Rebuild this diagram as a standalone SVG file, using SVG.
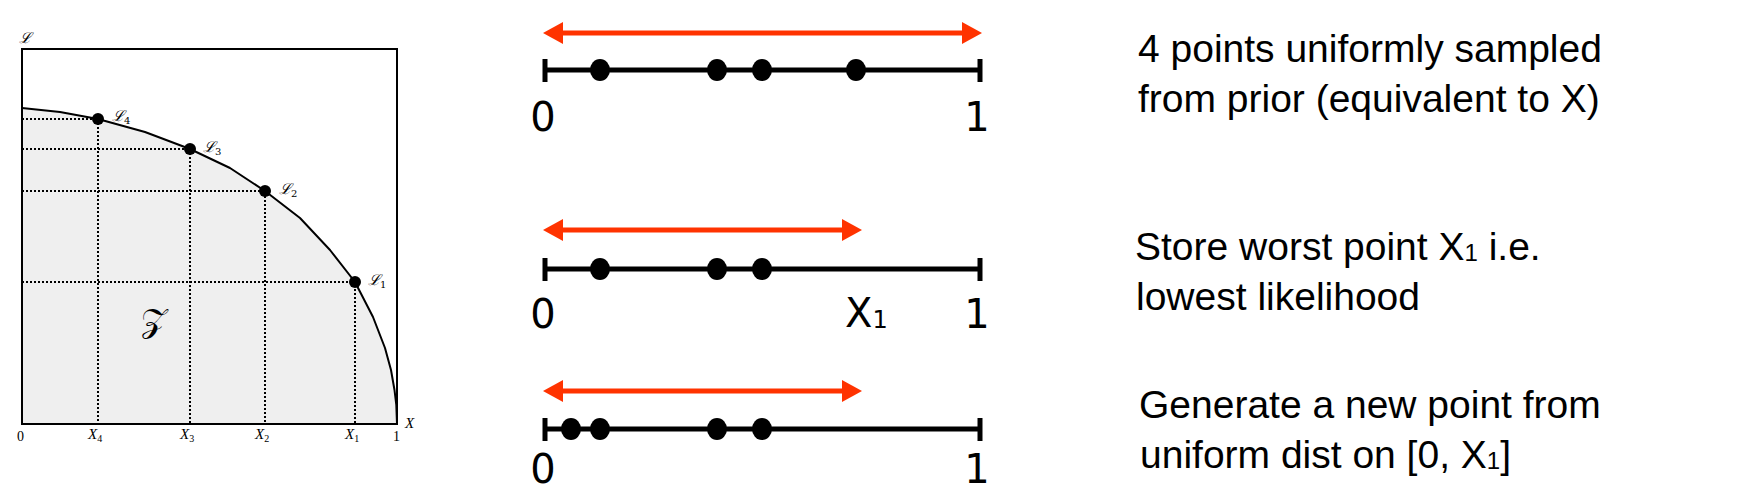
<svg xmlns="http://www.w3.org/2000/svg" width="1742" height="502" viewBox="0 0 1742 502">
<style>
.dot{stroke:#000;stroke-width:2;stroke-dasharray:2 2;fill:none}
.axis{font-family:"Liberation Serif",serif;font-style:italic;font-size:15px;fill:#000}
.num{font-family:"Liberation Serif",serif;font-size:14px;fill:#000}
.cal{font-family:"DejaVu Serif",serif;font-style:italic;font-size:15px;fill:#000}
.sub{font-size:10px;font-style:normal}
.big{font-family:"DejaVu Sans",sans-serif;font-size:40px;fill:#000}
.desc{font-family:"Liberation Sans",Arial,sans-serif;font-size:39px;fill:#000}
.s1{font-size:24px}
.nl{stroke:#000;stroke-width:5;fill:none}
.tick{stroke:#000;stroke-width:5}
.red{stroke:#ff3300;stroke-width:5}
.head{fill:#ff3300}
</style>
<rect width="1742" height="502" fill="#fff"/>
<g id="plot">
  <polygon fill="#efefef" points="22,108 60,112 98,119 145,132 190,149 230,168 265,191 300,218 330,250 355,282 373,317 385,348 391,370 394.5,390 396.3,405 397,424 22,424"/>
  <g id="guides">
    <path class="dot" d="M22,119H98V424"/>
    <path class="dot" d="M22,149H190V424"/>
    <path class="dot" d="M22,191H265V424"/>
    <path class="dot" d="M22,282H355V424"/>
  </g>
  <rect x="22" y="49" width="375" height="375" fill="none" stroke="#000" stroke-width="2"/>
  <polyline fill="none" stroke="#000" stroke-width="2" stroke-linejoin="round" points="22,108 60,112 98,119 145,132 190,149 230,168 265,191 300,218 330,250 355,282 373,317 385,348 391,370 394.5,390 396.3,405 397,424"/>
  <circle cx="98" cy="119" r="6"/>
  <circle cx="190" cy="149" r="6"/>
  <circle cx="265" cy="191" r="6"/>
  <circle cx="355" cy="282" r="6"/>
  <text class="cal" x="112" y="121">ℒ<tspan class="sub" dy="3">4</tspan></text>
  <text class="cal" x="203" y="152">ℒ<tspan class="sub" dy="3">3</tspan></text>
  <text class="cal" x="279" y="194">ℒ<tspan class="sub" dy="3">2</tspan></text>
  <text class="cal" x="368" y="285">ℒ<tspan class="sub" dy="3">1</tspan></text>
  <text class="cal" x="19" y="43">ℒ</text>
  <text x="154" y="332" text-anchor="middle" font-family="DejaVu Serif, serif" font-size="34">𝒵</text>
  <text class="num" x="17" y="441">0</text>
  <text class="num" x="393" y="441">1</text>
  <text class="axis" x="405" y="428">X</text>
  <text class="axis" x="88" y="439">X<tspan class="sub" dy="3">4</tspan></text>
  <text class="axis" x="180" y="439">X<tspan class="sub" dy="3">3</tspan></text>
  <text class="axis" x="255" y="439">X<tspan class="sub" dy="3">2</tspan></text>
  <text class="axis" x="345" y="439">X<tspan class="sub" dy="3">1</tspan></text>
</g>
<g id="row1">
  <line class="red" x1="560" y1="33" x2="965" y2="33"/>
  <polygon class="head" points="543,33 563,22 563,44"/>
  <polygon class="head" points="982,33 962,22 962,44"/>
  <line class="nl" x1="543" y1="70" x2="980" y2="70"/>
  <line class="tick" x1="545" y1="59" x2="545" y2="82"/>
  <line class="tick" x1="980" y1="59" x2="980" y2="82"/>
  <ellipse cx="600" cy="70" rx="10" ry="11"/>
  <ellipse cx="717" cy="70" rx="10" ry="11"/>
  <ellipse cx="762" cy="70" rx="10" ry="11"/>
  <ellipse cx="856" cy="70" rx="10" ry="11"/>
  <text class="big" x="543" y="131" text-anchor="middle">0</text>
  <text class="big" x="977" y="131" text-anchor="middle">1</text>
  <text class="desc" x="1138" y="62">4 points uniformly sampled</text>
  <text class="desc" x="1138" y="112">from prior (equivalent to X)</text>
</g>
<g id="row2">
  <line class="red" x1="560" y1="230" x2="845" y2="230"/>
  <polygon class="head" points="543,230 563,219 563,241"/>
  <polygon class="head" points="862,230 842,219 842,241"/>
  <line class="nl" x1="543" y1="269" x2="980" y2="269"/>
  <line class="tick" x1="545" y1="258" x2="545" y2="281"/>
  <line class="tick" x1="980" y1="258" x2="980" y2="281"/>
  <ellipse cx="600" cy="269" rx="10" ry="11"/>
  <ellipse cx="717" cy="269" rx="10" ry="11"/>
  <ellipse cx="762" cy="269" rx="10" ry="11"/>
  <text class="big" x="543" y="328" text-anchor="middle">0</text>
  <text class="big" x="845" y="327">X<tspan class="s1" dy="1">1</tspan></text>
  <text class="big" x="977" y="328" text-anchor="middle">1</text>
  <text class="desc" x="1135" y="260">Store worst point X<tspan class="s1" dy="1">1</tspan><tspan dy="-1"> i.e.</tspan></text>
  <text class="desc" x="1136" y="310">lowest likelihood</text>
</g>
<g id="row3">
  <line class="red" x1="560" y1="391" x2="845" y2="391"/>
  <polygon class="head" points="543,391 563,380 563,402"/>
  <polygon class="head" points="862,391 842,380 842,402"/>
  <line class="nl" x1="543" y1="429" x2="980" y2="429"/>
  <line class="tick" x1="545" y1="418" x2="545" y2="441"/>
  <line class="tick" x1="980" y1="418" x2="980" y2="441"/>
  <ellipse cx="571" cy="429" rx="10" ry="11"/>
  <ellipse cx="600" cy="429" rx="10" ry="11"/>
  <ellipse cx="717" cy="429" rx="10" ry="11"/>
  <ellipse cx="762" cy="429" rx="10" ry="11"/>
  <text class="big" x="543" y="483" text-anchor="middle">0</text>
  <text class="big" x="977" y="483" text-anchor="middle">1</text>
  <text class="desc" x="1139" y="418">Generate a new point from</text>
  <text class="desc" x="1140" y="468">uniform dist on [0, X<tspan class="s1" dy="1">1</tspan><tspan dy="-1">]</tspan></text>
</g>
</svg>
